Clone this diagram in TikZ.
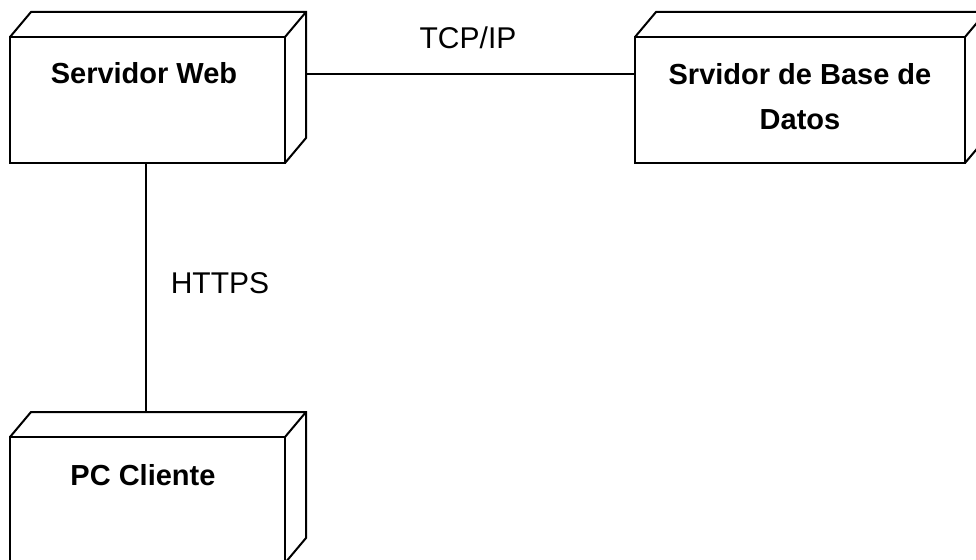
\documentclass[tikz,border=0pt]{standalone}
\usepackage{fontspec}
\setmainfont{Liberation Sans}
\usetikzlibrary{calc}
\begin{document}
\begin{tikzpicture}[x=1pt,y=-1pt,
  edge/.style={line width=2pt, line join=miter},
  nodebox/.style={draw, line width=2pt, minimum width=275pt, minimum height=126pt,
    inner sep=0pt, outer sep=0pt, anchor=north west},
  title/.style={font=\fontsize{29}{45}\selectfont\bfseries, align=center, inner sep=0pt},
  conn/.style={font=\fontsize{30}{36}\selectfont, inner sep=0pt}]
  \clip (0,0) rectangle (976,559);
  \fill[white] (0,0) rectangle (976,559);

  % front faces of the three nodes
  \node[nodebox] (web) at (10,37) {};
  \node[nodebox, minimum width=330pt] (db) at (635,37) {};
  \node[nodebox] (pc) at (10,437) {};

  % depth of each node: top and right faces
  \foreach \n in {web,db,pc} {
    \draw[edge] (\n.north west) -- ++(21,-25) -| ($(\n.south east)+(21,-25)$) -- (\n.south east);
    \draw[edge] (\n.north east) -- ++(21,-25);
  }

  % node names
  \node[title] (webname) at (144,73) {Servidor Web};
  \node[title] (dbname) at (800,97) {Srvidor de Base de\\Datos};
  \node[title] (pcname) at (143,475) {PC Cliente};

  % communication paths
  \draw[edge] ($(web.north east)+(21,37)$) -- ($(db.north west)+(0,37)$);
  \draw[edge] ($(web.south)+(-2,0)$) -- ($(pc.north)+(-2,-25)$);

  \node[conn] (tcp) at (468,38) {TCP/IP};
  \node[conn] (https) at (220,283) {HTTPS};
\end{tikzpicture}
\end{document}
